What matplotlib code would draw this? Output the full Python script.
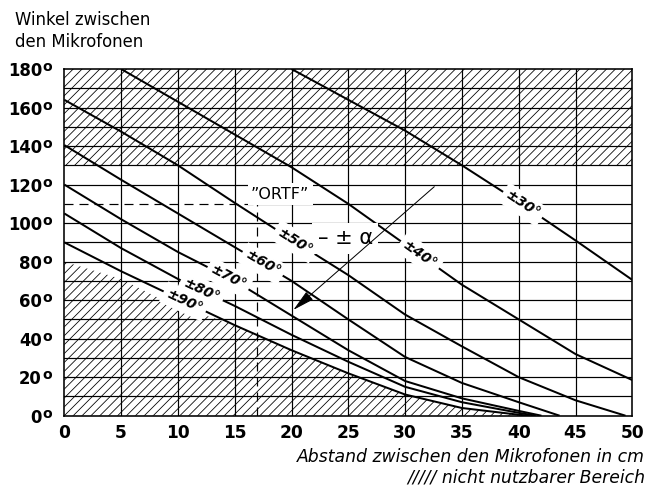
import numpy as np
import matplotlib
matplotlib.use("Agg")
import matplotlib.pyplot as plt
from matplotlib.transforms import blended_transform_factory, offset_copy

# ---------------- data ----------------
x_ticks = [0, 5, 10, 15, 20, 25, 30, 35, 40, 45, 50]
y_ticks = [0, 20, 40, 60, 80, 100, 120, 140, 160, 180]

# recording angle curves: distance (cm) -> angle between microphones (deg)
c30_x = [20, 25, 30, 35, 40, 45, 50]
c30_y = [180, 164, 148, 130, 111, 91, 70.5]
c40_x = [5, 10, 15, 20, 25, 30, 35, 40, 45, 50]
c40_y = [180, 163, 146, 129, 110, 89, 68, 50, 32, 18.5]
c50_x = [0, 5, 10, 15, 20, 25, 30, 35, 40, 45, 49.4]
c50_y = [164, 147.5, 130, 110.5, 91.5, 73, 52.5, 36, 20, 8, 0]
c60_x = [0, 5, 10, 15, 20, 25, 30, 35, 40, 43.6]
c60_y = [140.5, 122.5, 105, 87.5, 70, 50, 30.5, 17, 7, 0]
c70_x = [0, 5, 10, 15, 20, 25, 30, 35, 40, 42]
c70_y = [120, 102, 85, 70, 52, 34, 18, 9, 2.5, 0]
c80_x = [0, 5, 10, 15, 20, 25, 30, 35, 40, 41.5]
c80_y = [105, 87, 71, 57, 42, 28, 15, 7, 1.5, 0]
c90_x = [0, 5, 10, 15, 20, 25, 30, 35, 40, 41]
c90_y = [90, 75, 61, 47, 34, 22, 11, 4, 0.5, 0]

curve_names = ["±30°", "±40°", "±50°", "±60°", "±70°", "±80°", "±90°"]
label_x = [40.35, 31.3, 20.3, 17.46, 14.44, 12.1, 10.6]

# unusable region ("nicht nutzbarer Bereich")
upper_unusable = 130
lower_hatch_x = [0, 5, 10, 13, 15, 20, 25, 30, 35, 40, 41.5]
lower_hatch_y = [80, 71, 56, 51, 47, 34, 22, 11, 4, 0.5, 0]

# ORTF reference
ortf_distance = 17
ortf_angle = 110

# arrow "± alpha"
arrow_from = (32.57, 118.9)
arrow_to = (20.16, 54.9)

# ---------------- figure ----------------
DPI = 80
W, H = 659, 488
PT = 72.0 / DPI          # points per pixel

plt.rcParams["font.family"] = ["DejaVu Sans"]
plt.rcParams["hatch.linewidth"] = 0.8 * PT
plt.rcParams["hatch.color"] = "black"

fig = plt.figure(figsize=(W / DPI, H / DPI), dpi=DPI)
L, R, T, B = 64.3, 632.3, 69.0, 415.7
ax = fig.add_axes([L / W, 1 - B / H, (R - L) / W, (B - T) / H])
ax.set_xlim(0, 50)
ax.set_ylim(0, 180)
ax.set_xticks([])
ax.set_yticks([])
for s in ax.spines.values():
    s.set_linewidth(1.6 * PT)
    s.set_color("black")
    s.set_zorder(6)

# hatched regions
ax.fill_between([0, 50], upper_unusable, 180, facecolor="none",
                edgecolor="black", hatch="///", linewidth=0, zorder=1)
ax.fill_between(lower_hatch_x, 0, lower_hatch_y, facecolor="none",
                edgecolor="black", hatch="///", linewidth=0, zorder=1)

# grid
grid_lw = 1.2 * PT
for gx in np.arange(5, 50, 5):
    ax.axvline(gx, color="black", lw=grid_lw, zorder=2)
for gy in np.arange(10, 180, 10):
    if gy == ortf_angle:
        ax.plot([ortf_distance, 50], [gy, gy], color="black", lw=grid_lw, zorder=2)
    else:
        ax.axhline(gy, color="black", lw=grid_lw, zorder=2)

# ORTF dashed lines
dash = (0, (9 * PT / grid_lw, 6 * PT / grid_lw))
ax.plot([0, ortf_distance], [ortf_angle, ortf_angle], color="black",
        lw=grid_lw, ls=dash, zorder=2)
ax.plot([ortf_distance, ortf_distance], [0, ortf_angle], color="black",
        lw=grid_lw, ls=dash, zorder=2)

# curves
curves = [(c30_x, c30_y), (c40_x, c40_y), (c50_x, c50_y), (c60_x, c60_y),
          (c70_x, c70_y), (c80_x, c80_y), (c90_x, c90_y)]
for cx, cy in curves:
    ax.plot(cx, cy, color="black", lw=2.0 * PT, zorder=3,
            solid_capstyle="butt")

# "- ± alpha" (below the curve labels)
ax.text(22.3, 92.1, "\u2013 ± α", ha="left", va="center",
        fontsize=21 * PT, zorder=4,
        bbox=dict(boxstyle="square,pad=0.25", fc="white", ec="none"))

# curve labels (rotated along curve, white mask)
for (cx, cy), name, lx in zip(curves, curve_names, label_x):
    ly = np.interp(lx, cx, cy)
    p1 = ax.transData.transform((lx - 1.0, np.interp(lx - 1.0, cx, cy)))
    p2 = ax.transData.transform((lx + 1.0, np.interp(lx + 1.0, cx, cy)))
    ang = np.degrees(np.arctan2(p2[1] - p1[1], p2[0] - p1[0]))
    ax.text(lx, ly, name, rotation=ang, rotation_mode="anchor",
            ha="center", va="center", fontsize=14 * PT,
            fontweight="bold", fontstyle="italic", zorder=4.5,
            bbox=dict(boxstyle="square,pad=0.3", fc="white", ec="none"))

# "ORTF" label
ax.text(19.0, 115.1, "\u201dORTF\u201d", ha="center", va="center",
        fontsize=16 * PT, zorder=4,
        bbox=dict(boxstyle="square,pad=0.2", fc="white", ec="none"))

# arrow
ax.annotate("", xy=arrow_to, xytext=arrow_from,
            arrowprops=dict(arrowstyle="-|>,head_length=1.7,head_width=0.4",
                            color="black", lw=1.0 * PT, shrinkA=0, shrinkB=0,
                            mutation_scale=10),
            zorder=5)

# y tick labels with raised "o"
ytr = blended_transform_factory(fig.transFigure, ax.transData)
for v in y_ticks:
    t1 = offset_copy(ytr, fig=fig, x=0, y=-7, units="dots")
    fig.text(42.0 / W, v, str(v), transform=t1, ha="right", va="baseline",
             fontsize=16.5 * PT, fontweight="bold")
    t2 = offset_copy(ytr, fig=fig, x=0, y=-2.0, units="dots")
    fig.text(42.5 / W, v, "o", transform=t2, ha="left", va="baseline",
             fontsize=14 * PT, fontweight="bold")

# x tick labels
xtr = blended_transform_factory(ax.transData, fig.transFigure)
for v in x_ticks:
    fig.text(v, 1 - 438.3 / H, str(v), transform=xtr, ha="center",
             va="baseline", fontsize=17 * PT, fontweight="bold")

# axis titles
fig.text(15 / W, 1 - 25 / H, "Winkel zwischen", ha="left", va="baseline",
         fontsize=16.5 * PT)
fig.text(15 / W, 1 - 47 / H, "den Mikrofonen", ha="left", va="baseline",
         fontsize=16.5 * PT)
fig.text(645 / W, 1 - 462.5 / H, "Abstand zwischen den Mikrofonen in cm",
         ha="right", va="baseline", fontsize=17.2 * PT, fontstyle="italic")
fig.text(645 / W, 1 - 482.5 / H, "///// nicht nutzbarer Bereich",
         ha="right", va="baseline", fontsize=17.2 * PT, fontstyle="italic")

fig.savefig("out.png", dpi=DPI, facecolor="white")
